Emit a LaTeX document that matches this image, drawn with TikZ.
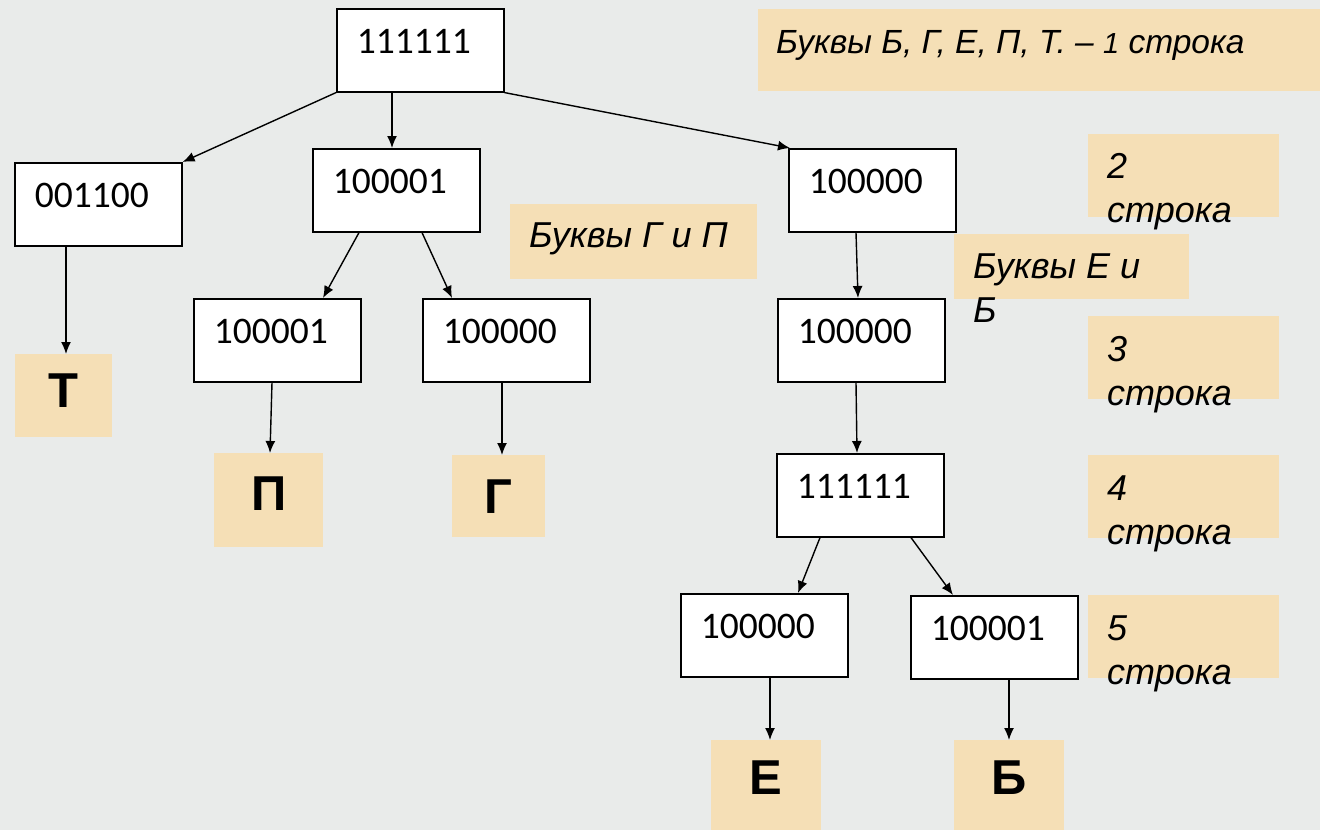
\documentclass[tikz,border=0pt]{standalone}
\usepackage{fontspec}
\setmainfont{Liberation Sans}
\newfontfamily\digitfont{Carlito}
\usetikzlibrary{arrows.meta,calc}
\definecolor{bgc}{HTML}{E9EBEA}
\definecolor{beige}{HTML}{F5DFB6}
\tikzset{
 box/.style={draw=black, fill=white, line width=1.6pt, anchor=north west, inner xsep=20pt, inner ysep=0pt, text width=127pt, text height=45pt, text depth=38pt, align=left, font=\digitfont\fontsize{37.5}{40}\selectfont},
 letterbox/.style={fill=beige, anchor=north west, inner sep=0pt, font=\fontsize{49}{55}\selectfont\bfseries, text depth=10pt},
 band/.style={fill=beige},
 itl/.style={anchor=base west, inner sep=0pt, align=left, font=\fontsize{36}{44}\selectfont\itshape},
 arr/.style={-{Latex[length=12pt,width=10pt]}, line width=1.4pt},
}
\begin{document}
\begin{tikzpicture}[x=1pt,y=-1pt]
\useasboundingbox (0,0) rectangle (1320,830);
\fill[bgc] (0,0) rectangle (1320,830);

% beige label bands
\fill[band] (758,9) rectangle (1320,91);
\fill[band] (510,204) rectangle (757,279);
\fill[band] (1088,134) rectangle (1279,217);
\fill[band] (954,234) rectangle (1189,299);
\fill[band] (1088,316) rectangle (1279,399);
\fill[band] (1088,455) rectangle (1279,538);
\fill[band] (1088,595) rectangle (1279,678);

% label texts (multi-line nodes are placed by their last baseline)
\node[itl, font=\fontsize{33.5}{40}\selectfont\itshape] (t1) at (776,53) {Буквы Б, Г, Е, П, Т. – {\fontsize{29}{36}\selectfont 1} строка};
\node[itl] (tGP) at (529,247) {Буквы Г и П};
\node[itl] (t2) at (1107,222) {2\\строка};
\node[itl] (tEB) at (973,322) {Буквы Е и\\Б};
\node[itl] (t3) at (1107,405) {3\\строка};
\node[itl] (t4) at (1107,544) {4\\строка};
\node[itl] (t5) at (1107,684) {5\\строка};

% code boxes
\node[box] (root) at (336,8) {111111};
\node[box] (a) at (14,162) {001100};
\node[box] (b) at (312,148) {100001};
\node[box] (c) at (788,148) {100000};
\node[box] (d) at (193,298) {100001};
\node[box] (e) at (422,298) {100000};
\node[box] (f) at (777,298) {100000};
\node[box] (g) at (776,453) {111111};
\node[box] (h) at (680,593) {100000};
\node[box] (i) at (910,595) {100001};

% letter boxes
\node[letterbox, minimum width=97pt, minimum height=83pt] (lT) at (15,354) {Т};
\node[letterbox, minimum width=109pt, minimum height=94pt, text depth=14pt] (lP) at (214,453) {П};
\node[letterbox, minimum width=93pt, minimum height=82pt, text depth=0pt] (lG) at (452,455) {Г};
\node[letterbox, minimum width=110pt, minimum height=90pt, text depth=16pt] (lE) at (711,740) {Е};
\node[letterbox, minimum width=110pt, minimum height=90pt, text depth=16pt] (lB) at (954,740) {Б};

% connectors
\draw[arr] (root.south west) -- (a.north east);
\draw[arr] ([xshift=56pt]root.south west) -- ([xshift=80pt]b.north west);
\draw[arr] (root.south east) -- ([xshift=2pt]c.north west);
\draw[arr] ([xshift=52pt]a.south west) -- ([xshift=51pt]lT.north west);
\draw[arr] ([xshift=47pt]b.south west) -- ([xshift=130pt]d.north west);
\draw[arr] ([xshift=110pt]b.south west) -- ([xshift=30pt]e.north west);
\draw[arr] ([xshift=79pt]d.south west) -- ([xshift=56pt]lP.north west);
\draw[arr] ([xshift=80pt]e.south west) -- ([xshift=50pt]lG.north west);
\draw[arr] ([xshift=68pt]c.south west) -- ([xshift=81pt]f.north west);
\draw[arr] ([xshift=79pt]f.south west) -- ([xshift=81pt]g.north west);
\draw[arr] ([xshift=44pt]g.south west) -- ([xshift=118pt]h.north west);
\draw[arr] ([xshift=135pt]g.south west) -- ([xshift=43pt]i.north west);
\draw[arr] ([xshift=90pt]h.south west) -- ([xshift=59pt]lE.north west);
\draw[arr] ([xshift=99pt]i.south west) -- ([xshift=55pt]lB.north west);
\end{tikzpicture}
\end{document}
